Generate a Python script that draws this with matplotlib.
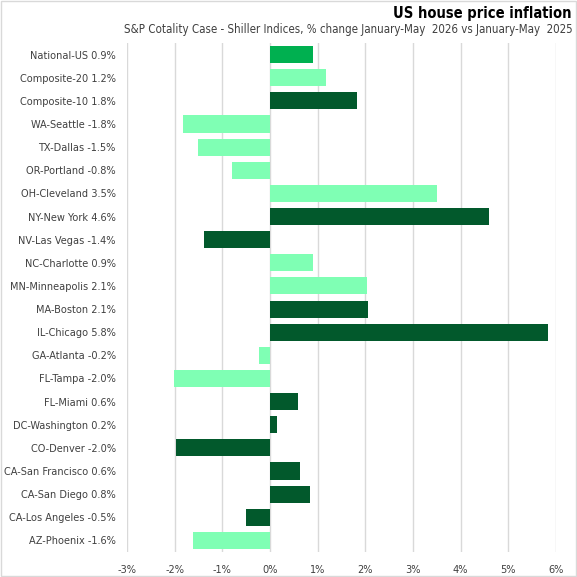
import matplotlib
matplotlib.use('Agg')
import matplotlib.pyplot as plt
from matplotlib.ticker import FuncFormatter

# data, top to bottom as in the chart
regions = ['National-US', 'Composite-20', 'Composite-10', 'WA-Seattle', 'TX-Dallas',
           'OR-Portland', 'OH-Cleveland', 'NY-New York', 'NV-Las Vegas', 'NC-Charlotte',
           'MN-Minneapolis', 'MA-Boston', 'IL-Chicago', 'GA-Atlanta', 'FL-Tampa',
           'FL-Miami', 'DC-Washington', 'CO-Denver', 'CA-San Francisco', 'CA-San Diego',
           'CA-Los Angeles', 'AZ-Phoenix']
change = [0.90, 1.17, 1.82, -1.82, -1.51, -0.80, 3.50, 4.59, -1.38, 0.90,
          2.03, 2.05, 5.83, -0.23, -2.01, 0.59, 0.15, -1.97, 0.63, 0.84,
          -0.50, -1.61]
labels = ['0.9%', '1.2%', '1.8%', '-1.8%', '-1.5%', '-0.8%', '3.5%', '4.6%', '-1.4%', '0.9%',
          '2.1%', '2.1%', '5.8%', '-0.2%', '-2.0%', '0.6%', '0.2%', '-2.0%', '0.6%', '0.8%',
          '-0.5%', '-1.6%']
group = ['us', 'light', 'dark', 'light', 'light', 'light', 'light', 'dark', 'dark', 'light',
         'light', 'dark', 'dark', 'light', 'light', 'dark', 'dark', 'dark', 'dark', 'dark',
         'dark', 'light']

colours = {'us': '#00B050', 'light': '#7FFFB4', 'dark': '#02592C'}

plt.rcParams['font.family'] = ['DejaVu Sans']
plt.rcParams['font.stretch'] = 'condensed'

fig = plt.figure(figsize=(5.77, 5.77), dpi=100)
ax = fig.add_axes([0.220, 0.0433, 0.7436, 0.8822])

ypos = list(range(len(regions)))
ax.barh(ypos, change, height=0.74, color=[colours[g] for g in group], zorder=3)

ax.set_xlim(-3, 6)
ax.set_xticks(range(-3, 7))
ax.xaxis.set_major_formatter(FuncFormatter(lambda v, p: '%d%%' % v))
ax.set_ylim(len(regions) - 0.5, -0.5)
ax.set_yticks(ypos)
ax.set_yticklabels([r + ' ' + l for r, l in zip(regions, labels)])

ax.grid(axis='x', color='#D9D9D9', linewidth=1, zorder=0)
for s in ax.spines.values():
    s.set_visible(False)
ax.tick_params(length=0, labelsize=7.8, colors='#404040', pad=8)
ax.tick_params(axis='x', pad=9)

fig.text(0.99, 0.977, 'US house price inflation', ha='right', va='center',
         fontsize=10.5, fontweight='bold', color='black')
fig.text(0.993, 0.949, 'S&P Cotality Case - Shiller Indices, % change January-May  2026 vs January-May  2025',
         ha='right', va='center', fontsize=8.3, color='#404040')

# light border round the chart area
fig.patches.append(plt.Rectangle((0.001, 0.001), 0.997, 0.997, transform=fig.transFigure,
                                 fill=False, edgecolor='#D9D9D9', linewidth=1))

fig.savefig('out.png', dpi=100)
